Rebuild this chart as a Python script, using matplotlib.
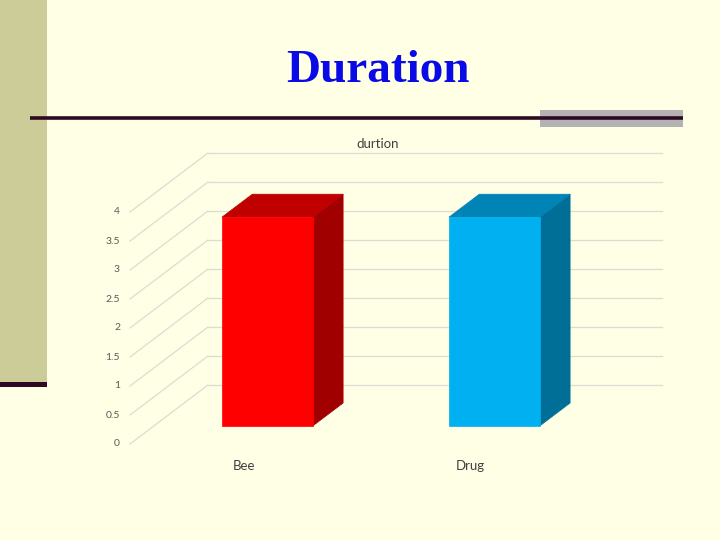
import matplotlib
matplotlib.use("Agg")
import matplotlib.pyplot as plt
from matplotlib.patches import Polygon, Rectangle
import numpy as np

# ---- data ----
categories = ["Bee", "Drug"]
values = [3.6, 3.6]
yticks = [0, 0.5, 1, 1.5, 2, 2.5, 3, 3.5, 4]
ytick_labels = ["0", "0.5", "1", "1.5", "2", "2.5", "3", "3.5", "4"]
chart_title = "durtion"
slide_title = "Duration"

front_colors = ["#FF0000", "#00B0F0"]
top_colors = ["#C00000", "#0083B5"]
side_colors = ["#A00000", "#006F98"]

BG = "#FFFFE6"
W, H = 720, 540
fig = plt.figure(figsize=(7.2, 5.4), dpi=100, facecolor=BG)

# ---- slide decoration (pixel coords) ----
deco = fig.add_axes([0, 0, 1, 1])
deco.set_xlim(0, W)
deco.set_ylim(H, 0)
deco.axis("off")
deco.set_facecolor(BG)
deco.add_patch(Rectangle((0, 0), 47, 383, color="#CCCC99", lw=0))
deco.add_patch(Rectangle((0, 381.5), 47, 5, color="#2E0A22", lw=0))
deco.add_patch(Rectangle((540, 110), 143, 17, color="#B3B3B3", lw=0))
deco.plot([30, 683], [117.5, 117.5], color="#2E0A22", lw=2.6, solid_capstyle="butt")
deco.text(377.5, 71, slide_title, ha="center", va="center", color="#0A0AE6",
          fontsize=34, fontweight="bold", family="Liberation Serif")

# ---- chart axes (front plane) ----
left, right = 130, 584
bottom, top = 444, 212
ax = fig.add_axes([left / W, (H - bottom) / H, (right - left) / W, (bottom - top) / H])
ax.set_xlim(-0.5, len(categories) - 0.5)
ax.set_ylim(0, 4)
ax.axis("off")
ax.patch.set_alpha(0)

# depth of the 3D box, in data units of the front plane
px_per_x = (right - left) / len(categories)
px_per_y = (bottom - top) / 4
DX = 78 / px_per_x
DY = 59 / px_per_y

grid_c = "#DCDCD2"
x0, x1 = -0.5, len(categories) - 0.5
for v in yticks:
    ax.plot([x0, x0 + DX], [v, v + DY], color=grid_c, lw=0.9, clip_on=False, zorder=1)
    ax.plot([x0 + DX, x1 + DX], [v + DY, v + DY], color=grid_c, lw=0.9, clip_on=False, zorder=1)

for v, lab in zip(yticks, ytick_labels):
    ax.text(x0 - 10 / px_per_x, v, lab, ha="right", va="center", fontsize=7.5,
            color="#595959", family="Lato")

# bars
bw = 0.4
f0, f1 = 0.305, 0.695
for i, (v, fc, tc, sc) in enumerate(zip(values, front_colors, top_colors, side_colors)):
    ox, oy = f0 * DX, f0 * DY
    bx, by = f1 * DX, f1 * DY
    xl, xr = i - bw / 2, i + bw / 2
    # side face
    ax.add_patch(Polygon([(xr + ox, oy), (xr + bx, by), (xr + bx, v + by), (xr + ox, v + oy)],
                         closed=True, fc=sc, ec=sc, lw=0.5, clip_on=False, zorder=3))
    # top face
    ax.add_patch(Polygon([(xl + ox, v + oy), (xr + ox, v + oy), (xr + bx, v + by), (xl + bx, v + by)],
                         closed=True, fc=tc, ec=tc, lw=0.5, clip_on=False, zorder=3))
    # front face
    ax.add_patch(Polygon([(xl + ox, oy), (xr + ox, oy), (xr + ox, v + oy), (xl + ox, v + oy)],
                         closed=True, fc=fc, ec=fc, lw=0.5, clip_on=False, zorder=4))
    ax.text(i, -22 / px_per_y, categories[i], ha="center", va="center", fontsize=9.5,
            color="#404040", family="Lato")

ax.text(x0 + (378 - left) / px_per_x, 4 + DY + 9 / px_per_y, chart_title, ha="center",
        va="center", fontsize=9.5, color="#404040", family="Lato")

fig.savefig("out.png", dpi=100, facecolor=BG)
